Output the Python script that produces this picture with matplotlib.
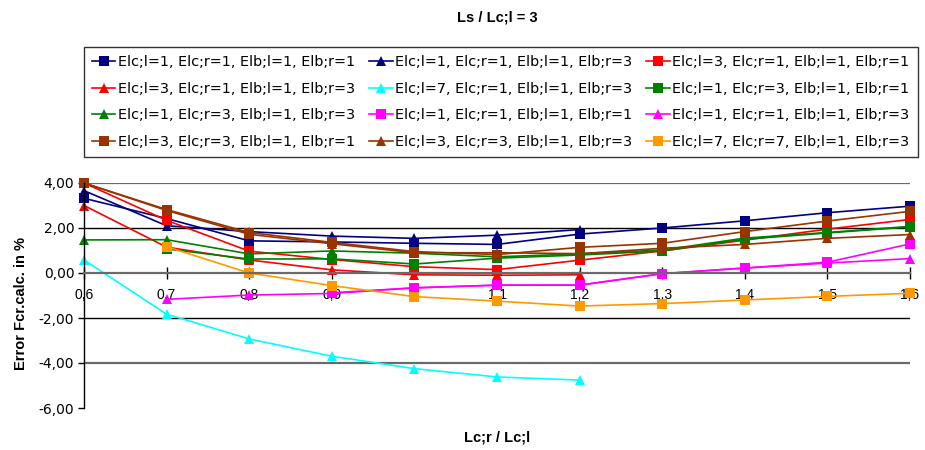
import numpy as np
import matplotlib
matplotlib.use("Agg")
import matplotlib.pyplot as plt

plt.rcParams['font.family'] = ['Liberation Sans', 'DejaVu Sans']

nan = np.nan
x_vals = [0.6, 0.7, 0.8, 0.9, 1.0, 1.1, 1.2, 1.3, 1.4, 1.5, 1.6]
x_labels = ["0,6", "0,7", "0,8", "0,9", "1", "1,1", "1,2", "1,3", "1,4", "1,5", "1,6"]
y_ticks = [-6, -4, -2, 0, 2, 4]
y_labels = ["-6,00", "-4,00", "-2,00", "0,00", "2,00", "4,00"]

series_names = [
    "Elc;l=1, Elc;r=1, Elb;l=1, Elb;r=1",
    "Elc;l=1, Elc;r=1, Elb;l=1, Elb;r=3",
    "Elc;l=3, Elc;r=1, Elb;l=1, Elb;r=1",
    "Elc;l=3, Elc;r=1, Elb;l=1, Elb;r=3",
    "Elc;l=7, Elc;r=1, Elb;l=1, Elb;r=3",
    "Elc;l=1, Elc;r=3, Elb;l=1, Elb;r=1",
    "Elc;l=1, Elc;r=3, Elb;l=1, Elb;r=3",
    "Elc;l=1, Elc;r=1, Elb;l=1, Elb;r=1",
    "Elc;l=1, Elc;r=1, Elb;l=1, Elb;r=3",
    "Elc;l=3, Elc;r=3, Elb;l=1, Elb;r=1",
    "Elc;l=3, Elc;r=3, Elb;l=1, Elb;r=3",
    "Elc;l=7, Elc;r=7, Elb;l=1, Elb;r=3",
]

navy_sq = [3.32, 2.42, 1.43, 1.38, 1.32, 1.27, 1.73, 2.00, 2.32, 2.68, 2.97]
navy_tri = [3.66, 2.10, 1.84, 1.64, 1.54, 1.68, 1.93, nan, nan, nan, nan]
red_sq = [4.00, 2.34, 0.97, 0.60, 0.28, 0.15, 0.57, 0.98, 1.46, 1.95, 2.38]
red_tri = [3.00, 1.15, 0.58, 0.14, -0.08, -0.10, -0.08, nan, nan, nan, nan]
cyan_tri = [0.58, -1.83, -2.93, -3.70, -4.25, -4.62, -4.76, nan, nan, nan, nan]
green_sq = [nan, 1.07, 0.62, 0.63, 0.40, 0.66, 0.80, 0.98, 1.50, 1.78, 2.05]
green_tri = [1.47, 1.48, 0.85, 0.98, 0.88, 0.72, 0.85, 1.02, 1.55, 1.80, 2.07]
magenta_sq = [nan, nan, nan, -0.88, -0.66, -0.54, -0.54, -0.03, 0.22, 0.48, 1.29]
magenta_tri = [nan, -1.17, -0.98, -0.91, -0.66, -0.54, -0.54, -0.03, 0.22, 0.44, 0.64]
brown_sq = [4.00, 2.82, 1.80, 1.36, 0.95, 0.82, 1.14, 1.32, 1.84, 2.31, 2.74]
brown_tri = [4.00, 2.78, 1.72, 1.30, 0.90, 0.90, 0.86, 1.10, 1.27, 1.54, 1.71]
orange_sq = [nan, 1.17, 0.00, -0.56, -1.05, -1.25, -1.47, -1.36, -1.20, -1.04, -0.90]

series_values = [navy_sq, navy_tri, red_sq, red_tri, cyan_tri, green_sq,
                 green_tri, magenta_sq, magenta_tri, brown_sq, brown_tri, orange_sq]
series_colors = ["#000080", "#000080", "#FF0000", "#FF0000", "#00FFFF", "#008000",
                 "#008000", "#FF00FF", "#FF00FF", "#993300", "#993300", "#FF9900"]
series_markers = ["s", "^", "s", "^", "^", "s", "^", "s", "^", "s", "^", "s"]

body_font = ['DejaVu Sans']

fig = plt.figure(figsize=(9.25, 4.5), dpi=100)
ax = fig.add_axes([84 / 925, 1 - 408 / 450, 826 / 925, 225 / 450])

handles = []
for vals, name, col, mk in zip(series_values, series_names, series_colors, series_markers):
    h, = ax.plot(x_vals, vals, color=col, marker=mk, markersize=6.5 if mk == "s" else 7.5,
                 linewidth=1.2, markeredgewidth=0, label=name, clip_on=False)
    handles.append(h)

ax.set_xlim(0.6, 1.6)
ax.set_ylim(-6, 4)
ax.set_xticks(x_vals)
ax.set_xticklabels(x_labels, fontsize=10, family=body_font)
ax.set_yticks(y_ticks)
ax.set_yticklabels(y_labels, fontsize=10, family=body_font)

ax.spines['top'].set_visible(False)
ax.spines['right'].set_visible(False)
ax.spines['bottom'].set_position(('data', 0))
ax.spines['bottom'].set_color('#6a6a6a')
ax.spines['bottom'].set_linewidth(1.6)
ax.spines['left'].set_color('black')
ax.spines['left'].set_linewidth(1.0)
ax.tick_params(axis='x', direction='inout', length=8, width=1, color='black', pad=7)
ax.tick_params(axis='y', direction='out', length=4, width=1, color='black', pad=3)

# horizontal grid lines (none at the bottom edge)
for yv, gc, gw in [(4, '#6a6a6a', 1.6), (2, 'black', 1.0), (-2, 'black', 1.0), (-4, '#6a6a6a', 1.6)]:
    ax.axhline(yv, color=gc, linewidth=gw, zorder=0.5)

ax.set_xlabel("Lc;r / Lc;l", fontsize=10.5, fontweight='bold')
ax.xaxis.set_label_coords(0.5, -0.098)
ax.set_ylabel("Error Fcr.calc. in %", fontsize=10.5, fontweight='bold')
ax.yaxis.set_label_coords(-0.068, 0.465)

fig.text(497 / 925, 1 - 18 / 450, "Ls / Lc;l = 3", ha='center', va='center',
         fontsize=10.5, fontweight='bold')

order = [0, 3, 6, 9, 1, 4, 7, 10, 2, 5, 8, 11]
leg = fig.legend([handles[i] for i in order], [series_names[i] for i in order],
                 ncol=3, loc='lower left',
                 bbox_to_anchor=(84 / 925, 1 - 157 / 450, 834 / 925, 109 / 450),
                 mode='expand', prop={'family': body_font, 'size': 10.4},
                 frameon=True, fancybox=False,
                 edgecolor='black', handlelength=1.6, handletextpad=0.2,
                 columnspacing=0.3, labelspacing=0.86, borderaxespad=0.0,
                 borderpad=0.58)
leg.get_frame().set_linewidth(1.0)

fig.savefig("out.png", dpi=100)
